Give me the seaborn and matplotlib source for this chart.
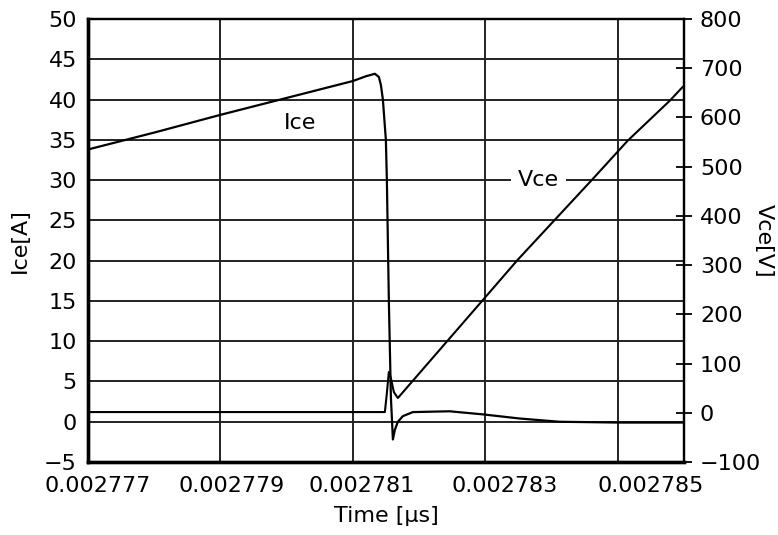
import matplotlib
matplotlib.use("Agg")
import matplotlib.pyplot as plt
import matplotlib.transforms as mtransforms
import seaborn as sns
import pandas as pd

# ---- data ----
ice_time = [0.0027770, 0.0027780, 0.0027790, 0.0027800, 0.0027810, 0.0027812,
            0.002781332, 0.002781392, 0.002781423, 0.002781453, 0.002781498,
            0.002781513, 0.002781543, 0.002781574, 0.002781604, 0.002781634,
            0.002781679, 0.002781755, 0.002781906, 0.00278246, 0.00278298,
            0.00278352, 0.00278412, 0.0027850, 0.0027860]
ice_amp = [33.8, 35.9, 38.1, 40.2, 42.3, 42.9,
           43.2, 42.8, 41.8, 40.0, 35.0,
           30.0, 15.0, 3.0, -2.2, -1.0,
           0.0, 0.7, 1.2, 1.3, 0.9,
           0.4, 0.0, -0.1, -0.1]

vce_time = [0.0027770, 0.0027790, 0.0027810, 0.002781483, 0.002781513,
            0.002781543, 0.002781574, 0.002781619, 0.002781679, 0.002782962,
            0.00278349, 0.002784608, 0.002785151, 0.002785785, 0.002785966,
            0.0027860]
vce_volt = [1.5, 1.5, 1.5, 1.5, 40,
            83, 70, 42, 30, 229,
            311, 473, 553, 634, 660,
            664]

x_ticks = [0.002777, 0.002779, 0.002781, 0.002783, 0.002785]
x_labels = ["0.002777", "0.002779", "0.002781", "0.002783", "0.002785"]
ice_ticks = list(range(-5, 51, 5))
vce_ticks = list(range(-100, 801, 100))

df_ice = pd.DataFrame({"time": ice_time, "Ice": ice_amp})
df_vce = pd.DataFrame({"time": vce_time, "Vce": vce_volt})

# ---- style ----
sns.set_style("white")
plt.rcParams["font.family"] = ["DejaVu Sans"]
plt.rcParams["font.size"] = 16
plt.rcParams["text.color"] = "black"
plt.rcParams["axes.labelcolor"] = "black"
plt.rcParams["xtick.color"] = "black"
plt.rcParams["ytick.color"] = "black"

fig = plt.figure(figsize=(7.78, 5.35), dpi=100)
ax = fig.add_axes([0.1131, 0.1364, 0.7661, 0.8281])
ax2 = ax.twinx()

sns.lineplot(data=df_ice, x="time", y="Ice", ax=ax, color="black",
             linewidth=1.6, sort=False)
sns.lineplot(data=df_vce, x="time", y="Vce", ax=ax2, color="black",
             linewidth=1.5, sort=False)

ax.set_xlim(0.002777, 0.002786)
ax.set_ylim(-5, 50)
ax2.set_ylim(-100, 800)

ax.set_xticks(x_ticks, x_labels)
ax.set_yticks(ice_ticks)
ax2.set_yticks(vce_ticks)

ax.grid(True, color="#222222", linewidth=1.4)
ax.set_axisbelow(True)

ax.tick_params(axis="x", length=0, pad=10, labelsize=16, labelcolor="black")
ax.tick_params(axis="y", length=0, pad=8, labelsize=16, labelcolor="black")
ax2.tick_params(axis="y", direction="inout", length=11, width=1.3,
                pad=6, labelsize=16, color="black", labelcolor="black")

# shift x tick labels to sit like in the scan
label_dx = [7, 8, 6, 14, 24]
for lab, dx in zip(ax.get_xticklabels(), label_dx):
    off = mtransforms.ScaledTranslation(dx / 72, 0, fig.dpi_scale_trans)
    lab.set_transform(lab.get_transform() + off)

for side, lw in [("left", 2.4), ("bottom", 2.4), ("top", 1.6), ("right", 1.6)]:
    ax2.spines[side].set_linewidth(lw)
    ax2.spines[side].set_color("black")
    ax.spines[side].set_linewidth(lw)
    ax.spines[side].set_color("black")

ax.set_xlabel("Time [µs]", fontsize=16, labelpad=7, color="black")
ax.set_ylabel("Ice[A]", fontsize=16, labelpad=10, color="black")
ax2.set_ylabel("Vce[V]", fontsize=16, rotation=-90, labelpad=9, color="black")

ax2.text(0.0027802, 37.1, "Ice", transform=ax.transData, fontsize=16,
         ha="center", va="center", color="black")
ax2.text(0.0027838, 30, "Vce", transform=ax.transData, fontsize=16,
         ha="center", va="center", color="black",
         bbox=dict(facecolor="white", edgecolor="none", pad=5))

fig.savefig("out.png", dpi=100)
